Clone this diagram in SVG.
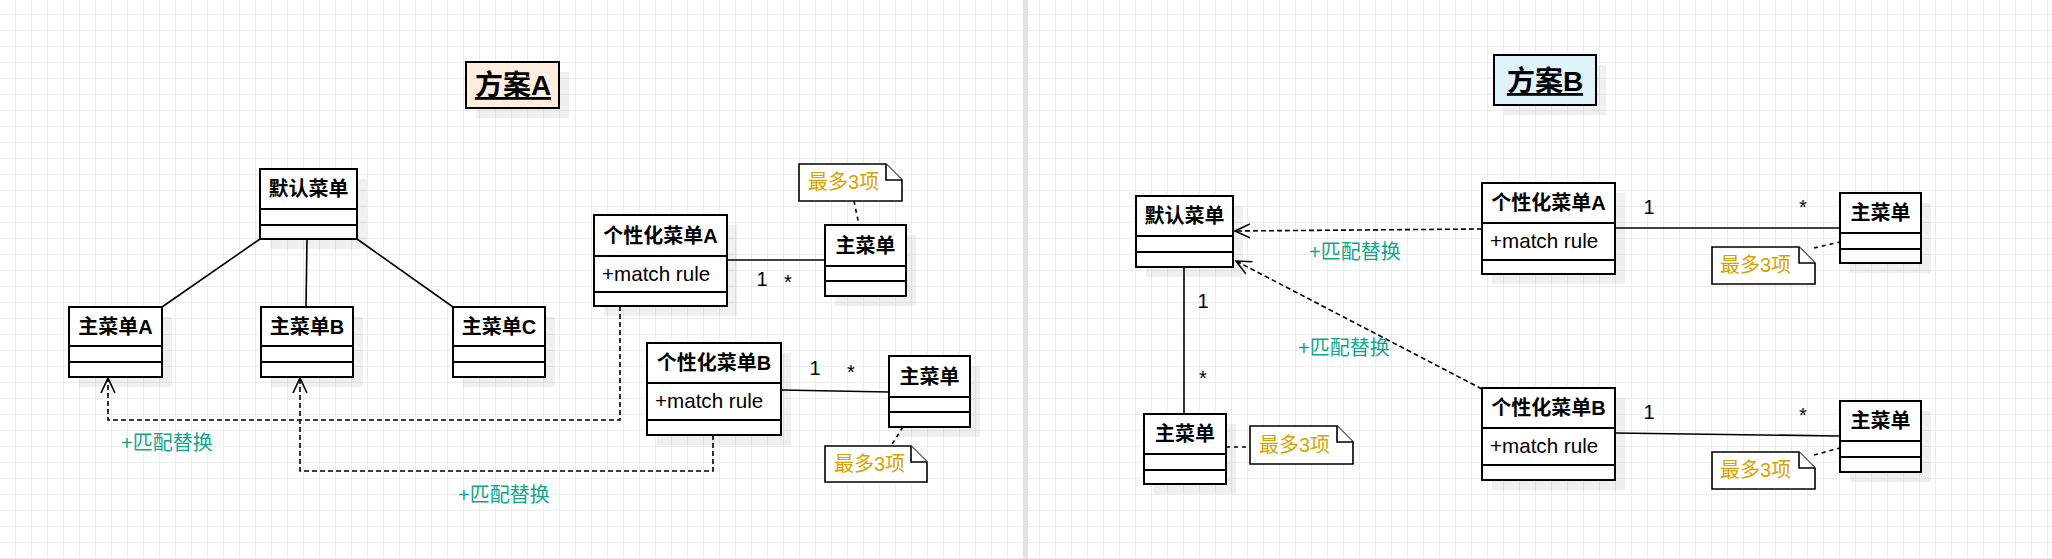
<svg xmlns="http://www.w3.org/2000/svg" width="2052" height="559" viewBox="0 0 2052 559">
<defs>
<pattern id="grid" x="15" y="14" width="16" height="16" patternUnits="userSpaceOnUse">
<rect x="0" y="0" width="16" height="1" fill="#ededed"/>
<rect x="0" y="0" width="1" height="16" fill="#ededed"/>
</pattern>
<marker id="open" viewBox="0 0 16 16" refX="15" refY="8" markerWidth="16" markerHeight="16" markerUnits="userSpaceOnUse" orient="auto">
<path d="M0 1 L15 8 L0 15" fill="none" stroke="#000" stroke-width="1.6"/>
</marker>
</defs>
<style>
.box{fill:#fff;stroke:#000;stroke-width:2}
.sh{fill:#000;opacity:.06}
.dv{stroke:#000;stroke-width:2}
.t{font-family:"Liberation Sans","Noto Sans CJK SC",sans-serif;font-size:20px;fill:#000}
.m{font-size:20.6px}
.b{font-weight:bold}
.c{text-anchor:middle}
.ttl{font-size:28px;font-weight:bold;text-decoration:underline;text-anchor:middle}
.lbl{fill:#12a58a}
.nt{fill:#d8a300}
.note{fill:#fff;stroke:#000;stroke-width:1.6}
.ln{fill:none;stroke:#000;stroke-width:1.6}
.dash{fill:none;stroke:#000;stroke-width:1.6;stroke-dasharray:5 3}
.dot{fill:none;stroke:#000;stroke-width:1.6;stroke-dasharray:4 4}
</style>
<rect width="2052" height="559" fill="#fff"/>
<rect width="2052" height="559" fill="url(#grid)"/>
<rect x="1023" y="0" width="5" height="559" fill="#e2e2e2"/>

<g id="connectors">
<line class="ln" x1="260" y1="239" x2="162" y2="307"/>
<line class="ln" x1="307" y1="239" x2="306" y2="307"/>
<line class="ln" x1="357" y1="239" x2="453" y2="307"/>
<path class="dash" d="M620 306 V420 H108 V378" marker-end="url(#open)"/>
<path class="dash" d="M713 435 V471 H300 V378" marker-end="url(#open)"/>
<line class="ln" x1="727" y1="260" x2="825" y2="260"/>
<line class="ln" x1="781" y1="390" x2="889" y2="392"/>
<line class="dot" x1="854" y1="201" x2="859" y2="225"/>
<line class="dot" x1="903" y1="427" x2="891" y2="446"/>
<text class="t c" x="762" y="286">1</text>
<text class="t c" x="788" y="289">*</text>
<text class="t c" x="815" y="375">1</text>
<text class="t c" x="851" y="379">*</text>
<text class="t lbl" x="121" y="450">+匹配替换</text>
<text class="t lbl" x="458" y="502">+匹配替换</text>

<line class="ln" x1="1615" y1="228" x2="1840" y2="228"/>
<line class="ln" x1="1615" y1="433" x2="1840" y2="436"/>
<line class="ln" x1="1184" y1="267" x2="1184" y2="414"/>
<path class="dash" d="M1482 229 L1235 231" marker-end="url(#open)"/>
<path class="dash" d="M1482 389 L1236 261" marker-end="url(#open)"/>
<line class="dot" x1="1814" y1="248" x2="1840" y2="242"/>
<line class="dot" x1="1814" y1="455" x2="1840" y2="448"/>
<line class="dot" x1="1226" y1="447" x2="1250" y2="447"/>
<text class="t c" x="1649" y="214">1</text>
<text class="t c" x="1803" y="214">*</text>
<text class="t c" x="1649" y="419">1</text>
<text class="t c" x="1803" y="422">*</text>
<text class="t c" x="1203" y="308">1</text>
<text class="t c" x="1203" y="385">*</text>
<text class="t lbl" x="1309" y="259">+匹配替换</text>
<text class="t lbl" x="1298" y="355">+匹配替换</text>
</g>

<g id="title-a">
<rect class="sh" x="476" y="72" width="93" height="46"/>
<rect class="box" x="466" y="62" width="93" height="46" style="fill:#ffeedf"/>
<text class="t ttl" x="513" y="95">方案A</text>
</g>

<g id="default-menu-a">
<rect class="sh" x="270" y="179" width="97" height="70"/>
<rect class="box" x="260" y="169" width="97" height="70"/>
<line class="dv" x1="260" y1="209" x2="357" y2="209"/>
<line class="dv" x1="260" y1="225" x2="357" y2="225"/>
<text class="t b c" x="308.5" y="196">默认菜单</text>
</g>

<g id="main-menu-a">
<rect class="sh" x="79" y="317" width="93" height="70"/>
<rect class="box" x="69" y="307" width="93" height="70"/>
<line class="dv" x1="69" y1="346" x2="162" y2="346"/>
<line class="dv" x1="69" y1="362" x2="162" y2="362"/>
<text class="t b c" x="115.5" y="334">主菜单A</text>
</g>

<g id="main-menu-b">
<rect class="sh" x="271" y="317" width="92" height="70"/>
<rect class="box" x="261" y="307" width="92" height="70"/>
<line class="dv" x1="261" y1="346" x2="353" y2="346"/>
<line class="dv" x1="261" y1="362" x2="353" y2="362"/>
<text class="t b c" x="307" y="334">主菜单B</text>
</g>

<g id="main-menu-c">
<rect class="sh" x="463" y="317" width="92" height="70"/>
<rect class="box" x="453" y="307" width="92" height="70"/>
<line class="dv" x1="453" y1="346" x2="545" y2="346"/>
<line class="dv" x1="453" y1="362" x2="545" y2="362"/>
<text class="t b c" x="499" y="334">主菜单C</text>
</g>

<g id="custom-menu-a-left">
<rect class="sh" x="604" y="225" width="133" height="91"/>
<rect class="box" x="594" y="215" width="133" height="91"/>
<line class="dv" x1="594" y1="256" x2="727" y2="256"/>
<line class="dv" x1="594" y1="292" x2="727" y2="292"/>
<text class="t b c" x="660.5" y="243">个性化菜单A</text>
<text class="t m" x="602" y="281">+match rule</text>
</g>

<g id="main-menu-a1">
<rect class="sh" x="835" y="235" width="81" height="71"/>
<rect class="box" x="825" y="225" width="81" height="71"/>
<line class="dv" x1="825" y1="266" x2="906" y2="266"/>
<line class="dv" x1="825" y1="281" x2="906" y2="281"/>
<text class="t b c" x="865.5" y="253">主菜单</text>
</g>

<g id="note-a1">
<path class="note" d="M799 164 H886 L902 180 V201 H799 Z"/>
<path class="note" d="M886 164 V180 H902"/>
<text class="t nt" x="808" y="189">最多3项</text>
</g>

<g id="custom-menu-b-left">
<rect class="sh" x="657" y="353" width="134" height="92"/>
<rect class="box" x="647" y="343" width="134" height="92"/>
<line class="dv" x1="647" y1="383" x2="781" y2="383"/>
<line class="dv" x1="647" y1="420" x2="781" y2="420"/>
<text class="t b c" x="714" y="370">个性化菜单B</text>
<text class="t m" x="655" y="408">+match rule</text>
</g>

<g id="main-menu-a2">
<rect class="sh" x="899" y="366" width="81" height="71"/>
<rect class="box" x="889" y="356" width="81" height="71"/>
<line class="dv" x1="889" y1="397" x2="970" y2="397"/>
<line class="dv" x1="889" y1="412" x2="970" y2="412"/>
<text class="t b c" x="929.5" y="384">主菜单</text>
</g>

<g id="note-a2">
<path class="note" d="M825 446 H911 L927 462 V482 H825 Z"/>
<path class="note" d="M911 446 V462 H927"/>
<text class="t nt" x="834" y="471">最多3项</text>
</g>

<g id="title-b">
<rect class="sh" x="1504" y="65" width="102" height="50"/>
<rect class="box" x="1494" y="55" width="102" height="50" style="fill:#dff3fd"/>
<text class="t ttl" x="1545" y="91">方案B</text>
</g>

<g id="default-menu-b">
<rect class="sh" x="1146" y="206" width="97" height="71"/>
<rect class="box" x="1136" y="196" width="97" height="71"/>
<line class="dv" x1="1136" y1="236" x2="1233" y2="236"/>
<line class="dv" x1="1136" y1="252" x2="1233" y2="252"/>
<text class="t b c" x="1184.5" y="223">默认菜单</text>
</g>

<g id="custom-menu-a-right">
<rect class="sh" x="1492" y="193" width="133" height="91"/>
<rect class="box" x="1482" y="183" width="133" height="91"/>
<line class="dv" x1="1482" y1="223" x2="1615" y2="223"/>
<line class="dv" x1="1482" y1="260" x2="1615" y2="260"/>
<text class="t b c" x="1548.5" y="210">个性化菜单A</text>
<text class="t m" x="1490" y="248">+match rule</text>
</g>

<g id="main-menu-b1">
<rect class="sh" x="1850" y="203" width="81" height="70"/>
<rect class="box" x="1840" y="193" width="81" height="70"/>
<line class="dv" x1="1840" y1="233" x2="1921" y2="233"/>
<line class="dv" x1="1840" y1="249" x2="1921" y2="249"/>
<text class="t b c" x="1880.5" y="220">主菜单</text>
</g>

<g id="note-b1">
<path class="note" d="M1712 247 H1799 L1815 263 V284 H1712 Z"/>
<path class="note" d="M1799 247 V263 H1815"/>
<text class="t nt" x="1720" y="272">最多3项</text>
</g>

<g id="main-menu-b0">
<rect class="sh" x="1154" y="424" width="82" height="70"/>
<rect class="box" x="1144" y="414" width="82" height="70"/>
<line class="dv" x1="1144" y1="454" x2="1226" y2="454"/>
<line class="dv" x1="1144" y1="470" x2="1226" y2="470"/>
<text class="t b c" x="1185" y="441">主菜单</text>
</g>

<g id="note-b0">
<path class="note" d="M1250 426 H1337 L1353 442 V464 H1250 Z"/>
<path class="note" d="M1337 426 V442 H1353"/>
<text class="t nt" x="1259" y="452">最多3项</text>
</g>

<g id="custom-menu-b-right">
<rect class="sh" x="1492" y="398" width="133" height="92"/>
<rect class="box" x="1482" y="388" width="133" height="92"/>
<line class="dv" x1="1482" y1="428" x2="1615" y2="428"/>
<line class="dv" x1="1482" y1="465" x2="1615" y2="465"/>
<text class="t b c" x="1548.5" y="415">个性化菜单B</text>
<text class="t m" x="1490" y="453">+match rule</text>
</g>

<g id="main-menu-b2">
<rect class="sh" x="1850" y="411" width="81" height="71"/>
<rect class="box" x="1840" y="401" width="81" height="71"/>
<line class="dv" x1="1840" y1="441" x2="1921" y2="441"/>
<line class="dv" x1="1840" y1="457" x2="1921" y2="457"/>
<text class="t b c" x="1880.5" y="428">主菜单</text>
</g>

<g id="note-b2">
<path class="note" d="M1712 452 H1799 L1815 468 V489 H1712 Z"/>
<path class="note" d="M1799 452 V468 H1815"/>
<text class="t nt" x="1720" y="477">最多3项</text>
</g>
</svg>
